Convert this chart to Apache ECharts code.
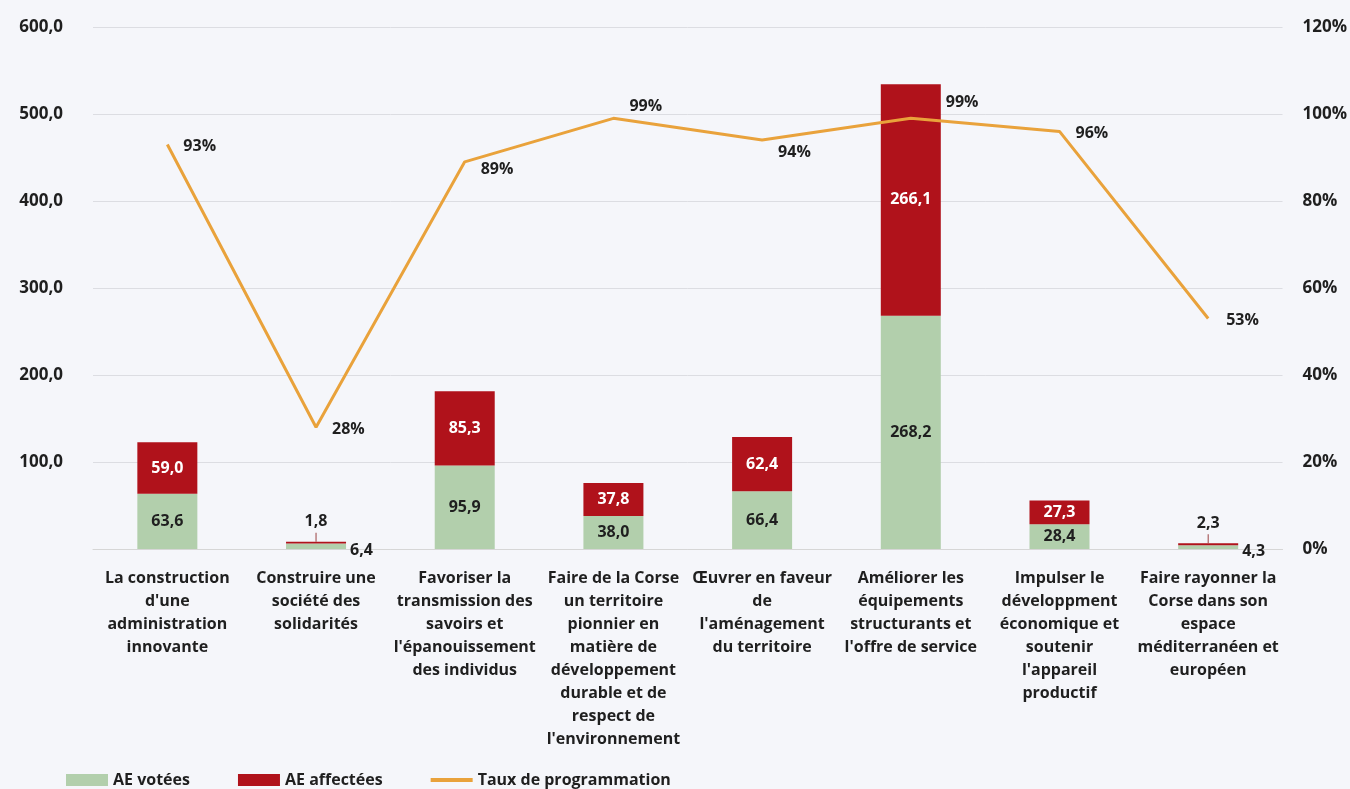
<!DOCTYPE html>
<html lang="fr">
<head>
<meta charset="utf-8">
<title>AE votées, AE affectées et taux de programmation</title>
<script src="https://cdn.jsdelivr.net/npm/echarts@6/dist/echarts.min.js"></script>
<style>
  html, body { margin: 0; padding: 0; background: #f5f6fa; }
  #chart { width: 1350px; height: 789px; }
</style>
</head>
<body>
<div id="chart"></div>
<script>
// Axes de la programmation
const categories = [
  "La construction\nd'une\nadministration\ninnovante",
  "Construire une\nsociété des\nsolidarités",
  "Favoriser la\ntransmission des\nsavoirs et\nl'épanouissement\ndes individus",
  "Faire de la Corse\nun territoire\npionnier en\nmatière de\ndéveloppement\ndurable et de\nrespect de\nl'environnement",
  "Œuvrer en faveur\nde\nl'aménagement\ndu territoire",
  "Améliorer les\néquipements\nstructurants et\nl'offre de service",
  "Impulser le\ndéveloppment\néconomique et\nsoutenir\nl'appareil\nproductif",
  "Faire rayonner la\nCorse dans son\nespace\nméditerranéen et\neuropéen"
];

// Montants (M€)
const aeVotees = [63.6, 6.4, 95.9, 38.0, 66.4, 268.2, 28.4, 4.3];
const aeAffectees = [59.0, 1.8, 85.3, 37.8, 62.4, 266.1, 27.3, 2.3];

// Taux de programmation (%)
const tauxProgrammation = [93, 28, 89, 99, 94, 99, 96, 53];

// Graduations
const leftTicks = { min: 0, max: 600, interval: 100 };
const rightTicks = { min: 0, max: 120, interval: 20 };

// Placement des étiquettes du taux : [distance à droite, décalage vertical]
const rateLabelNudge = [[16, 2], [16, 2], [16, 8], [16, -12], [16, 12], [35, -16], [16, 2], [18, 2]];

const FONT = 'Open Sans';
const FS = 16;
const TEXT = '#1f1f1f';
const GREEN = '#b2cfac';
const RED = '#b0121b';
const ORANGE = '#e9a23b';

const fmt = v => v.toFixed(1).replace('.', ',');
// barres trop fines pour porter leur étiquette à l'intérieur
const isThin = i => aeVotees[i] + aeAffectees[i] < 15;

const greenData = aeVotees.map((v, i) => {
  if (!isThin(i)) return v;
  return { value: v, label: { position: 'right', distance: 4, offset: [0, 4] } };
});

const redData = aeAffectees.map((v, i) => {
  if (!isThin(i)) return v;
  return {
    value: v,
    label: {
      position: 'top',
      distance: 0,
      color: TEXT,
      formatter: p => '{t|' + fmt(p.value) + '}\n{stem|}',
      rich: {
        t: { fontFamily: FONT, fontWeight: 'bold', fontSize: FS, color: TEXT, lineHeight: 22, align: 'center' },
        stem: { width: 1, height: 9, backgroundColor: '#9a4040', align: 'center' }
      }
    }
  };
});

const rateData = tauxProgrammation.map((v, i) => ({
  value: v,
  label: { distance: rateLabelNudge[i][0], offset: [0, rateLabelNudge[i][1]] }
}));

const chart = echarts.init(document.getElementById('chart'), null, { renderer: 'canvas' });

chart.setOption({
  backgroundColor: '#f5f6fa',
  animation: false,
  textStyle: { fontFamily: FONT },
  grid: { left: 93, right: 66, top: 27, bottom: 240, containLabel: false },
  legend: {
    left: 61,
    top: 767,
    itemWidth: 42,
    itemHeight: 12,
    itemGap: 48,
    textStyle: { fontFamily: FONT, fontWeight: 'bold', fontSize: FS, color: TEXT },
    data: [
      { name: 'AE votées', icon: 'rect' },
      { name: 'AE affectées', icon: 'rect' },
      { name: 'Taux de programmation', icon: 'path://M0,0 L42,0 L42,4 L0,4 Z' }
    ]
  },
  xAxis: {
    type: 'category',
    data: categories,
    axisTick: { show: false },
    axisLine: { show: true, lineStyle: { color: '#d6d6d6' } },
    axisLabel: {
      interval: 0,
      margin: 18,
      fontFamily: FONT,
      fontWeight: 'bold',
      fontSize: FS,
      lineHeight: 23,
      color: TEXT,
      align: 'center'
    }
  },
  yAxis: [
    {
      type: 'value',
      min: leftTicks.min,
      max: leftTicks.max,
      interval: leftTicks.interval,
      axisLine: { show: false },
      axisTick: { show: false },
      splitLine: { lineStyle: { color: '#dcdde2', width: 1 } },
      axisLabel: {
        margin: 30,
        fontFamily: FONT,
        fontWeight: 'bold',
        fontSize: 17,
        color: TEXT,
        formatter: v => v === 0 ? '' : fmt(v)
      }
    },
    {
      type: 'value',
      min: rightTicks.min,
      max: rightTicks.max,
      interval: rightTicks.interval,
      axisLine: { show: false },
      axisTick: { show: false },
      splitLine: { show: false },
      axisLabel: {
        margin: 20,
        fontFamily: FONT,
        fontWeight: 'bold',
        fontSize: 17,
        color: TEXT,
        formatter: '{value}%'
      }
    }
  ],
  series: [
    {
      name: 'AE votées',
      type: 'bar',
      stack: 'ae',
      barWidth: 60,
      itemStyle: { color: GREEN },
      label: {
        show: true,
        position: 'inside',
        fontFamily: FONT,
        fontWeight: 'bold',
        fontSize: FS,
        color: TEXT,
        formatter: p => fmt(p.value)
      },
      data: greenData
    },
    {
      name: 'AE affectées',
      type: 'bar',
      stack: 'ae',
      barWidth: 60,
      itemStyle: { color: RED },
      label: {
        show: true,
        position: 'inside',
        fontFamily: FONT,
        fontWeight: 'bold',
        fontSize: FS,
        color: '#ffffff',
        formatter: p => fmt(p.value)
      },
      data: redData
    },
    {
      name: 'Taux de programmation',
      type: 'line',
      yAxisIndex: 1,
      symbol: 'circle',
      symbolSize: 0,
      showSymbol: true,
      z: 5,
      lineStyle: { color: ORANGE, width: 3 },
      itemStyle: { color: ORANGE },
      label: {
        show: true,
        position: 'right',
        fontFamily: FONT,
        fontWeight: 'bold',
        fontSize: FS,
        color: TEXT,
        formatter: '{c}%'
      },
      data: rateData
    }
  ]
});
</script>
</body>
</html>
